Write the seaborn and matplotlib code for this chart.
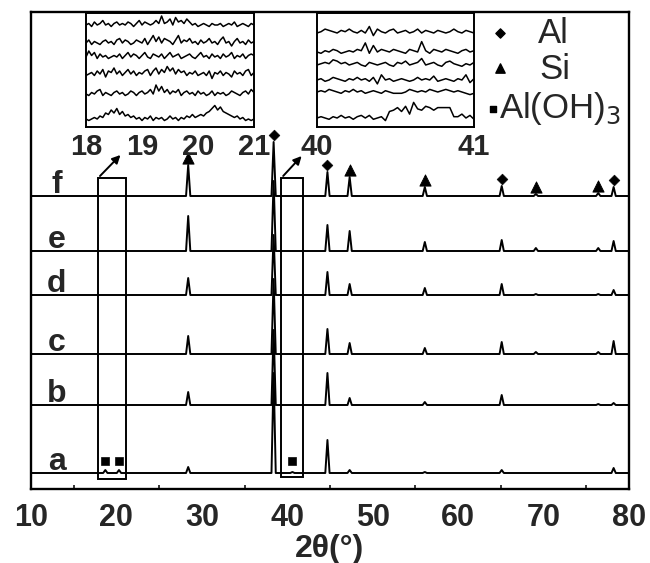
import numpy as np
import pandas as pd
import matplotlib
matplotlib.use("Agg")
import matplotlib.pyplot as plt
from matplotlib.patches import Rectangle
import seaborn as sns

# --- data (heights in pixel-like units) ---
samples = ["a", "b", "c", "d", "e", "f"]
baselines = [16, 84, 135, 194, 238, 293]

peak_pos = [18.7, 20.3, 28.4, 38.4, 40.6, 44.7, 47.3, 56.1, 65.1, 69.1, 76.4, 78.2]
heights_a = [3, 3, 6, 100, 1, 33, 3, 1, 3, 0, 0, 5]
heights_b = [0, 0, 13, 75, 0, 32, 7, 3, 10, 0, 1, 2]
heights_c = [0, 0, 18, 75, 0, 25, 11, 6, 12, 2, 2, 13]
heights_d = [0, 0, 17, 60, 0, 23, 11, 7, 11, 1, 1, 5]
heights_e = [0, 0, 35, 70, 0, 26, 20, 9, 11, 3, 3, 10]
heights_f = [0, 0, 31, 54, 0, 24, 19, 9, 10, 2, 3, 9]
all_heights = [heights_a, heights_b, heights_c, heights_d, heights_e, heights_f]

# phase markers above trace f
al_pos = [38.4, 44.7, 65.1, 78.2]
si_pos = [28.4, 47.3, 56.1, 69.1, 76.4]
aloh_pos = [18.7, 20.3, 40.6]

# inset 1 (18-21 deg), bottom (a) to top (f)
i1_a = [0,-1,0,1,0,2,1,4,3,6,4,7,3,5,2,3,1,2,0,1,-1,1,0,2,-1,1,0,1,-1,0,2,0,1,-1,1,0,2,1,3,1,2,3,2,4,5,7,9,6,8,5,4,3,2,1,2,0,1,-1,0,-1,0]
i1_b = [0,-1,1,0,2,3,-1,1,0,-1,1,2,0,1,-1,0,2,1,-1,1,2,0,1,3,0,6,2,5,1,3,0,2,1,3,-1,1,2,0,1,-1,2,0,1,-1,0,2,-1,1,0,1,-1,0,2,1,0,-1,1,2,0,3,1]
i1_c = [-1,0,1,-1,2,0,3,-2,2,1,4,0,2,-1,1,3,0,2,-1,1,0,2,3,-1,2,4,0,3,1,5,2,4,0,3,1,2,-1,1,0,2,-1,0,1,-1,2,-3,1,0,2,-1,1,0,-2,2,0,1,-1,2,3,-1,1]
i1_d = [0,4,1,3,-1,2,0,1,-1,0,1,0,2,-1,1,3,0,2,1,-1,1,3,0,-1,2,1,0,2,-1,1,3,0,1,2,-1,0,1,2,0,-1,1,3,0,1,-1,2,0,1,-1,2,0,1,3,-1,1,0,2,-1,1,2,1]
i1_e = [0,2,-1,1,0,-1,1,2,0,1,-1,2,3,0,2,1,-1,0,2,1,0,3,-1,2,5,1,4,0,3,2,1,-1,2,5,0,2,1,3,0,1,-1,2,0,1,3,0,1,-1,2,4,0,1,-2,1,3,0,1,-1,2,0,1]
i1_f = [0,1,-1,2,0,1,3,0,1,-1,1,2,0,1,0,2,1,-1,1,3,0,2,1,0,1,3,1,6,1,2,4,0,5,2,3,1,4,2,0,1,-1,0,1,0,-1,1,0,0,1,-1,0,1,0,2,-1,0,1,0,-1,1,0]
i1_base = [8, 33, 53, 70, 84, 102]

# inset 2 (40-41 deg)
i2_a = [0,1,0,-1,1,0,2,0,1,-1,1,2,0,2,-1,0,1,-2,5,6,8,5,9,3,12,7,6,9,8,6,8,8,8,8,1,1,3,0,2,-1]
i2_b = [0,1,0,2,1,0,-1,1,0,2,0,1,-1,0,1,0,-1,1,0,-1,-1,-1,0,2,1,0,1,0,2,1,0,1,2,1,0,1,0,-1,-2,-1]
i2_c = [0,1,-1,0,2,1,0,-1,1,0,2,0,1,-1,2,-3,4,0,1,-1,0,1,0,-1,0,2,0,1,0,3,-1,0,1,0,-1,1,0,4,-2,1]
i2_d = [0,1,2,1,4,3,1,2,0,1,2,0,-1,2,1,0,1,2,0,-1,2,1,3,0,1,2,5,0,1,2,0,-1,2,3,1,0,-1,1,0,2]
i2_e = [0,-1,1,0,2,1,-1,0,1,0,2,1,7,-1,5,0,2,1,0,2,1,0,-1,2,1,0,8,1,-1,2,1,0,2,1,0,-1,1,2,0,1]
i2_f = [0,1,3,2,1,0,2,1,3,1,0,2,0,5,-2,3,1,0,2,3,0,1,2,0,1,3,0,2,1,0,2,1,0,1,3,1,0,2,1,0]
i2_base = [9, 35, 47, 62, 75, 94]

PEAK_HALF_WIDTH = 0.25


def build_trace(name, base, heights):
    xs, ys = [10.0], [base]
    for p, h in zip(peak_pos, heights):
        if h > 0:
            xs += [p - PEAK_HALF_WIDTH, p, p + PEAK_HALF_WIDTH]
            ys += [base, base + h, base]
    xs.append(80.0)
    ys.append(base)
    return pd.DataFrame({"two_theta": xs, "intensity": ys, "sample": name})


def inset_frame(traces, bases, lo, hi, gain):
    rows = []
    for i, (t, b) in enumerate(zip(traces, bases)):
        rows.append(pd.DataFrame({"two_theta": np.linspace(lo, hi, len(t)),
                                  "intensity": np.array(t) * gain + b,
                                  "sample": samples[i]}))
    return pd.concat(rows)


sns.set_style("white")
plt.rcParams["font.family"] = ["Liberation Sans", "DejaVu Sans"]

fig = plt.figure(figsize=(6.5, 5.63), dpi=100)
ax = fig.add_axes([31 / 650, 74 / 563, 598 / 650, 477 / 563])

df = pd.concat([build_trace(s, b, h) for s, b, h in zip(samples, baselines, all_heights)])
sns.lineplot(data=df, x="two_theta", y="intensity", units="sample", estimator=None,
             sort=False, color="black", lw=1.4, ax=ax, legend=False)

ax.set_xlim(10, 80)
ax.set_ylim(0, 477)
ax.set_xticks(range(10, 81, 10))
ax.set_xticks(range(15, 80, 10), minor=True)
ax.set_yticks([])
ax.tick_params(axis="x", which="major", direction="in", length=6, width=1.3,
               pad=10, labelsize=22)
ax.tick_params(axis="x", which="minor", direction="in", length=3, width=1.3, bottom=True)
for lbl in ax.get_xticklabels():
    lbl.set_fontweight("bold")
for sp in ax.spines.values():
    sp.set_linewidth(1.7)
    sp.set_color("black")
ax.set_xlabel("2θ(°)", fontsize=23, fontweight="bold", labelpad=1)
ax.set_ylabel("")

# sample labels
for s, b in zip(samples, baselines):
    ax.text(13.0, b + 3, s, fontsize=23, fontweight="bold", ha="center", va="baseline")

# phase markers above trace f
f_base = baselines[-1]
al_y = [f_base + heights_f[peak_pos.index(p)] + 7 for p in al_pos]
si_y = [f_base + heights_f[peak_pos.index(p)] + 7 for p in si_pos]
sns.scatterplot(x=al_pos, y=al_y, marker="D", s=30, color="black", edgecolor="black", ax=ax)
sns.scatterplot(x=si_pos, y=si_y, marker="^", s=65, color="black", edgecolor="black", ax=ax)
a_base = baselines[0]
sns.scatterplot(x=aloh_pos, y=[a_base + 12] * len(aloh_pos), marker="s", s=34,
                color="black", edgecolor="black", ax=ax)

# zoom boxes and arrows
ax.add_patch(Rectangle((17.85, 10), 3.25, 301, fill=False, lw=1.4, ec="black"))
ax.add_patch(Rectangle((39.3, 12), 2.55, 299, fill=False, lw=1.4, ec="black"))
ax.annotate("", xy=(20.7, 336), xytext=(17.85, 311),
            arrowprops=dict(arrowstyle="-|>", lw=1.4, color="black", mutation_scale=12))
ax.annotate("", xy=(41.9, 335), xytext=(39.3, 311),
            arrowprops=dict(arrowstyle="-|>", lw=1.4, color="black", mutation_scale=12))

# legend drawn as text
ax.scatter([0.785], [0.955], marker="D", s=22, color="black", transform=ax.transAxes)
ax.scatter([0.785], [0.883], marker="^", s=45, color="black", transform=ax.transAxes)
ax.scatter([0.773], [0.797], marker="s", s=18, color="black", transform=ax.transAxes)
ax.text(0.848, 0.955, "Al", fontsize=25, ha="left", va="center", transform=ax.transAxes)
ax.text(0.85, 0.88, "Si", fontsize=25, ha="left", va="center", transform=ax.transAxes)
ax.text(0.783, 0.797, "Al(OH)$_3$", fontsize=25, ha="left", va="center", transform=ax.transAxes)

# insets
insets = [
    ([86 / 650, 436 / 563, 168 / 650, 114 / 563], [i1_a, i1_b, i1_c, i1_d, i1_e, i1_f], i1_base, 18, 21, 1.5),
    ([317 / 650, 436 / 563, 157 / 650, 114 / 563], [i2_a, i2_b, i2_c, i2_d, i2_e, i2_f], i2_base, 40, 41, 1.3),
]
for rect, traces, bases, lo, hi, gain in insets:
    iax = fig.add_axes(rect)
    idf = inset_frame(traces, bases, lo, hi, gain)
    sns.lineplot(data=idf, x="two_theta", y="intensity", units="sample", estimator=None,
                 sort=False, color="black", lw=1.1, ax=iax, legend=False)
    iax.set_xlim(lo, hi)
    iax.set_ylim(0, 114)
    iax.set_xticks(list(range(lo, hi + 1)))
    iax.set_yticks([])
    iax.tick_params(axis="x", direction="in", length=3, width=1.0, pad=4, labelsize=21)
    for lbl in iax.get_xticklabels():
        lbl.set_fontweight("bold")
    iax.set_xlabel("")
    iax.set_ylabel("")
    for sp in iax.spines.values():
        sp.set_linewidth(1.4)
        sp.set_color("black")

fig.savefig("out.png", dpi=100)
